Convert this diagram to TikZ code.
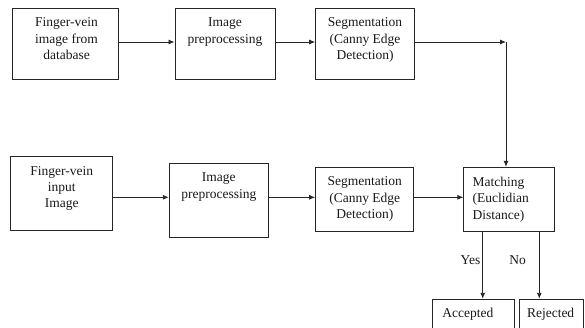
\documentclass[tikz,border=0pt]{standalone}
\usepackage{fontspec}
\setmainfont{Liberation Serif}
\usetikzlibrary{arrows.meta,calc}
\begin{document}
\begin{tikzpicture}[x=1pt,y=-1pt,
  box/.style={draw=black!85, line width=1pt, inner sep=0pt, minimum width=#1},
  box/.default=100pt,
  txt/.style={inner sep=0pt, align=center, font=\fontsize{13.5}{16.3}\selectfont, text=black!90},
  ltxt/.style={inner sep=0pt, align=left, font=\fontsize{13.5}{16.3}\selectfont, text=black!90},
  arr/.style={draw=black!85, line width=0.9pt, -{Latex[length=6pt,width=5pt]}},
  ln/.style={draw=black!85, line width=0.9pt}]
\useasboundingbox (0,0) rectangle (585,327);
\clip (0,0) rectangle (585,327);
% top row
\node[box=105.6pt, minimum height=71pt] (b1) at (65.5,43.8) {};
\node[box=100pt, minimum height=71pt] (b2) at (225,43.8) {};
\node[box=98.6pt, minimum height=71pt] (b3) at (365,43.8) {};
% bottom row
\node[box=101.7pt, minimum height=74pt] (b4) at (61.8,193.7) {};
\node[box=99pt, minimum height=74pt] (b5) at (218.8,200.3) {};
\node[box=98.3pt, minimum height=63.7pt] (b6) at (364.8,199.2) {};
\node[box=90.5pt, minimum height=63.7pt] (b7) at (509.2,199.2) {};
% result boxes
\node[box=81.6pt, minimum height=46pt] (acc) at (473.5,322.3) {};
\node[box=64.2pt, minimum height=46pt] (rej) at (551.4,322.3) {};
% texts
\node[txt, anchor=north] (t1) at ([xshift=1pt,yshift=-10pt]b1.north) {Finger-vein\\image from\\database};
\node[txt, anchor=north] (t2) at ([yshift=-10pt]b2.north) {Image\\preprocessing};
\node[txt, anchor=north] (t3) at ([yshift=-10pt]b3.north) {Segmentation\\(Canny Edge\\Detection)};
\node[txt, anchor=north] (t4) at ([yshift=-10pt]b4.north) {Finger-vein\\input\\Image};
\node[txt, anchor=north] (t5) at ([yshift=-10pt]b5.north) {Image\\preprocessing};
\node[txt, anchor=north] (t6) at ([yshift=-10pt]b6.north) {Segmentation\\(Canny Edge\\Detection)};
\node[ltxt, anchor=north west] (t7) at ([xshift=9pt,yshift=-10pt]b7.north west) {Matching\\(Euclidian\\Distance)};
\node[ltxt, anchor=north west] (t8) at ([xshift=10pt,yshift=-9pt]acc.north west) {Accepted};
\node[ltxt, anchor=north west] (t9) at ([xshift=8pt,yshift=-9pt]rej.north west) {Rejected};
\node[txt] (yes) at (470.5,260) {Yes};
\node[txt] (no) at (517.7,260) {No};
% coordinates
\coordinate (corner) at (506,42);
\coordinate (rowB) at (0,197.3);
\coordinate (yesx) at (482.7,0);
\coordinate (nox) at (539.3,0);
% connectors
\draw[arr] (b1.east |- corner) -- (b2.west |- corner);
\draw[arr] (b2.east |- corner) -- (b3.west |- corner);
\draw[arr] (b3.east |- corner) -- (corner);
\draw[arr] (corner) -- (corner |- b7.north);
\draw[arr] (b4.east |- rowB) -- (b5.west |- rowB);
\draw[arr] (b5.east |- rowB) -- (b6.west |- rowB);
\draw[arr] (b6.east |- rowB) -- (b7.west |- rowB);
\draw[arr] (yesx |- b7.south) -- (yesx |- acc.north);
\draw[arr] (nox |- b7.south) -- (nox |- rej.north);
\end{tikzpicture}
\end{document}
